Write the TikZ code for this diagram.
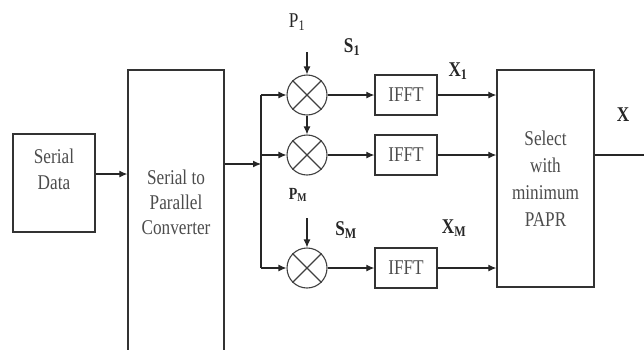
\documentclass[tikz,border=0pt]{standalone}
\usepackage{fontspec}
\setmainfont{Liberation Serif}[FakeStretch=0.82]
\usetikzlibrary{arrows.meta,calc}
\begin{document}
\begin{tikzpicture}[x=1pt,y=-1pt,
  box/.style={draw=black!80, line width=1.4pt, inner sep=0pt, align=center, text=black!70},
  txt/.style={inner sep=0pt, align=center, text=black!70},
  mix/.style={draw=black!75, line width=1.1pt, circle, minimum size=40pt, inner sep=0pt},
  arr/.style={draw=black!85, line width=1.1pt, -{Latex[length=8pt,width=7pt]}},
  ln/.style={draw=black!85, line width=1.1pt},
  lab/.style={text=black!85, inner sep=0pt},
  font=\fontsize{21}{26}\selectfont]
\useasboundingbox (0,0) rectangle (644,349);
\clip (0,0) rectangle (644,349);
% boxes
\node[box, minimum width=82pt, minimum height=98pt] (serial) at (54,183) {};
\node[txt] (serialtxt) at (54,169) {Serial\\Data};
\node[box, minimum width=96pt, minimum height=282pt] (sp) at (176,211) {};
\node[txt, font=\fontsize{21}{25}\selectfont] (sptxt) at (176,202) {Serial to\\Parallel\\Converter};
\node[box, minimum width=97pt, minimum height=217pt, font=\fontsize{21}{27}\selectfont] (sel) at (545.5,178.5) {Select\\with\\minimum\\PAPR};
% mixers
\foreach \n/\y in {m1/95, m2/155, m3/268}{
  \node[mix] (\n) at (307,\y) {};
  \draw[black!75, line width=1.1pt] (\n.45) -- (\n.225) (\n.135) -- (\n.315);
}
% IFFT
\node[box, minimum width=62pt, minimum height=40pt] (f1) at (406,95) {IFFT};
\node[box, minimum width=62pt, minimum height=40pt] (f2) at (406,155) {IFFT};
\node[box, minimum width=62pt, minimum height=40pt] (f3) at (406,268) {IFFT};
% coordinates
\coordinate (y174) at (0,174);
\coordinate (bt) at (261,95);
\coordinate (bm) at (261,164);
\coordinate (bc) at (261,155);
\coordinate (bb) at (261,268);
\coordinate (p1s) at (307,52);
\coordinate (pms) at (307,218);
\coordinate (xout) at (646,155);
% connectors
\draw[arr] (serial.east |- y174) -- (sp.west |- y174);
\draw[ln] (bt) -- (bb);
\draw[arr] (sp.east |- bm) -- (bm);
\draw[arr] (bt) -- (m1.west);
\draw[arr] (bc) -- (m2.west);
\draw[arr] (bb) -- (m3.west);
\draw[arr] (p1s) -- (m1.north);
\draw[arr] (m1.south) -- (m2.north);
\draw[arr] (pms) -- (m3.north);
\draw[arr] (m1.east) -- (f1.west);
\draw[arr] (m2.east) -- (f2.west);
\draw[arr] (m3.east) -- (f3.west);
\draw[arr] (f1.east) -- (sel.west |- f1.east);
\draw[arr] (f2.east) -- (sel.west |- f2.east);
\draw[arr] (f3.east) -- (sel.west |- f3.east);
\draw[ln] (sel.east |- xout) -- (xout);
% labels
\node[lab] (p1) at (297,22) {P\textsubscript{1}};
\node[lab] (s1) at (352,47) {\textbf{S\textsubscript{1}}};
\node[lab, font=\fontsize{17}{18}\selectfont] (pm) at (298,195) {\textbf{P\textsubscript{M}}};
\node[lab] (sm) at (346,230) {\textbf{S\textsubscript{M}}};
\node[lab] (x1) at (458,71) {\textbf{X\textsubscript{1}}};
\node[lab] (xm) at (454,228) {\textbf{X\textsubscript{M}}};
\node[lab] (x) at (623,115) {\textbf{X}};
\end{tikzpicture}
\end{document}
